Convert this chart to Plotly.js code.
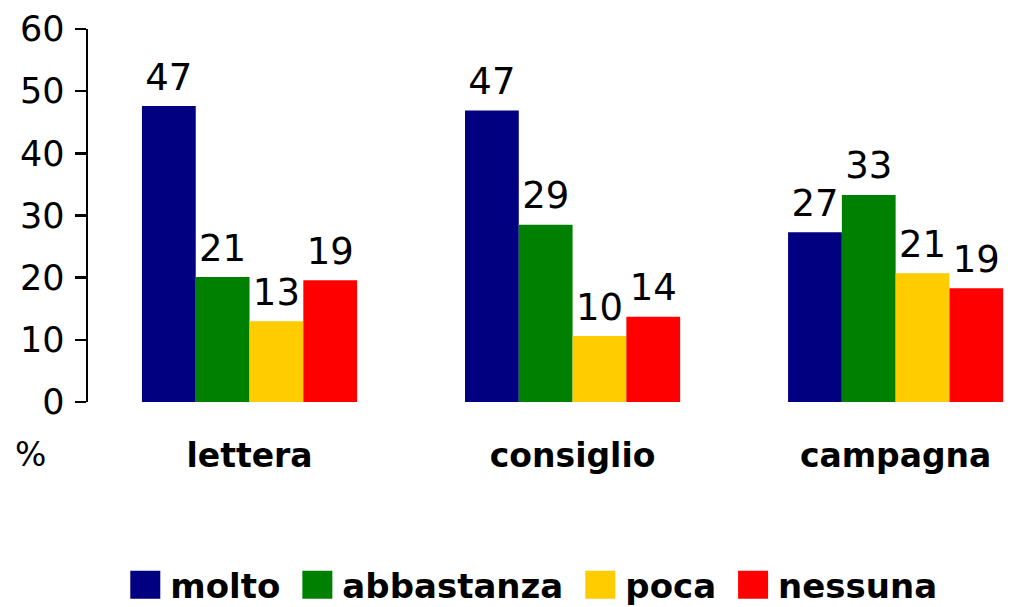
<!DOCTYPE html>
<html>
<head>
<meta charset="utf-8">
<script src="https://cdn.plot.ly/plotly-3.0.1.min.js"></script>
<style>
  html, body { margin: 0; padding: 0; background: #ffffff; }
  #chart { width: 1010px; height: 607px; }
  .legendpoints path { d: path("M18.5,14H-11.5V-14H18.5Z"); }
</style>
</head>
<body>
<div id="chart"></div>
<script>
const categories = ['lettera', 'consiglio', 'campagna'];
const seriesNames = ['molto', 'abbastanza', 'poca', 'nessuna'];
const molto = [47.6, 46.9, 27.3];
const abbastanza = [20.1, 28.5, 33.3];
const poca = [13.0, 10.6, 20.7];
const nessuna = [19.6, 13.7, 18.3];
const moltoLabels = ['47', '47', '27'];
const abbastanzaLabels = ['21', '29', '33'];
const pocaLabels = ['13', '10', '21'];
const nessunaLabels = ['19', '14', '19'];
const yTickValues = [0, 10, 20, 30, 40, 50, 60];
const yTickLabels = ['0', '10', '20', '30', '40', '50', '60'];
const unitLabel = '%';

const seriesValues = [molto, abbastanza, poca, nessuna];
const seriesLabels = [moltoLabels, abbastanzaLabels, pocaLabels, nessunaLabels];
const seriesColors = ['#000080', '#008000', '#FFCC00', '#FF0000'];

const traces = [];
seriesNames.forEach((name, i) => {
  traces.push({
    type: 'bar',
    name: name,
    x: categories,
    y: seriesValues[i],
    offsetgroup: name,
    marker: { color: seriesColors[i], line: { width: 0 } },
    hoverinfo: 'none'
  });
});
seriesNames.forEach((name, i) => {
  traces.push({
    type: 'scatter',
    mode: 'markers+text',
    x: categories,
    y: seriesValues[i],
    offsetgroup: name,
    text: seriesLabels[i],
    textposition: 'top center',
    textfont: { family: 'DejaVu Sans', size: 37, color: '#000000' },
    marker: { size: 10, opacity: 0 },
    showlegend: false,
    cliponaxis: false,
    hoverinfo: 'none'
  });
});

const layout = {
  width: 1010,
  height: 607,
  autosize: false,
  margin: { l: 88, r: 0, t: 29, b: 205, pad: 0, autoexpand: false },
  paper_bgcolor: '#ffffff',
  plot_bgcolor: '#ffffff',
  font: { family: 'DejaVu Sans', color: '#000000' },
  barmode: 'group',
  bargap: 0.334,
  bargroupgap: 0,
  scattermode: 'group',
  scattergap: 0.334,
  showlegend: true,
  xaxis: {
    type: 'category',
    range: [-0.5, 2.354],
    automargin: false,
    showline: false,
    showgrid: false,
    zeroline: false,
    ticks: '',
    ticklabelstandoff: 31,
    tickfont: { family: 'DejaVu Sans', size: 33, weight: 'bold', color: '#000000' },
    fixedrange: true
  },
  yaxis: {
    range: [0, 60],
    automargin: false,
    tickmode: 'array',
    tickvals: yTickValues,
    ticktext: yTickLabels,
    ticks: 'outside',
    ticklen: 11,
    tickwidth: 2.5,
    tickcolor: '#000000',
    showline: true,
    linewidth: 2.5,
    linecolor: '#000000',
    showgrid: false,
    zeroline: false,
    ticklabelstandoff: 3,
    tickfont: { family: 'DejaVu Sans', size: 35, color: '#000000' },
    fixedrange: true
  },
  legend: {
    orientation: 'h',
    x: 0.477,
    xanchor: 'center',
    y: -0.413,
    yanchor: 'top',
    font: { family: 'DejaVu Sans', size: 34, weight: 'bold', color: '#000000' },
    itemwidth: 47,
    traceorder: 'normal',
    bgcolor: 'rgba(0,0,0,0)'
  },
  annotations: [{
    text: unitLabel,
    xref: 'paper',
    yref: 'paper',
    x: -0.081,
    xanchor: 'left',
    y: -0.141,
    yanchor: 'middle',
    showarrow: false,
    font: { family: 'DejaVu Sans', size: 33, color: '#000000' }
  }]
};

Plotly.newPlot('chart', traces, layout, { displayModeBar: false, staticPlot: true });
</script>
</body>
</html>
